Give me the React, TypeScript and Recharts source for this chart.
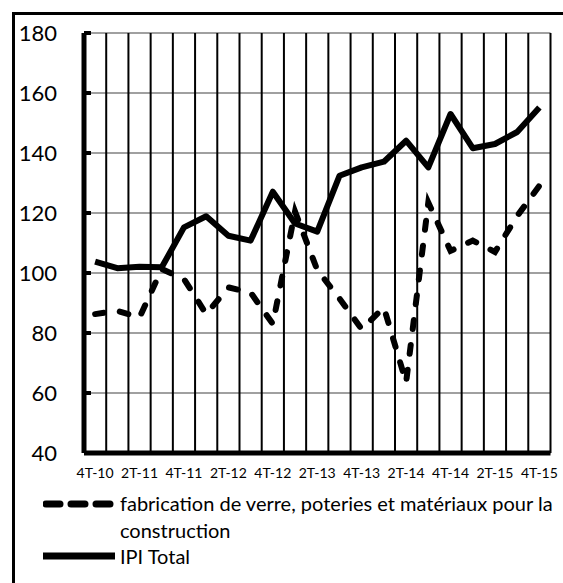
import { LineChart, Line, XAxis, YAxis, CartesianGrid } from "recharts";

// trimestres 4T-10 .. 4T-15
const quarters = [
  "4T-10", "1T-11", "2T-11", "3T-11", "4T-11", "1T-12", "2T-12", "3T-12", "4T-12",
  "1T-13", "2T-13", "3T-13", "4T-13", "1T-14", "2T-14", "3T-14", "4T-14",
  "1T-15", "2T-15", "3T-15", "4T-15",
];

const verre = [
  86.3, 87.4, 85.2, 101.3, 98, 86.3, 95.2, 93.5, 83, 120.5, 101, 91.5, 81.3,
  88.5, 63.5, 123.5, 107.4, 110.8, 107, 119, 129.1,
];

const ipiTotal = [
  103.8, 101.6, 102.1, 101.9, 115.2, 118.9, 112.4, 110.8, 127.1, 116.5, 113.8,
  132.4, 135.2, 137.1, 144.1, 135.2, 153, 141.6, 143, 147, 155.2,
];

const yTicks = [40, 60, 80, 100, 120, 140, 160, 180];

const seriesNames = {
  verre: "fabrication de verre, poteries et matériaux pour la construction",
  ipi: "IPI Total",
};

const data = quarters.map((q, i) => ({ q, verre: verre[i], ipi: ipiTotal[i] }));

const FONT = "Lato, 'Open Sans', sans-serif";

// lignes verticales aux limites des catégories
const boundaries = ({ offset }: any) =>
  quarters.map((_, k) => offset.left + ((k + 1) * offset.width) / quarters.length);

export default function App() {
  return (
    <div style={{ position: "absolute", left: 0, top: 0, width: 563, height: 583, overflow: "hidden", background: "#fff", fontFamily: FONT }}>
      {/* cadre */}
      <div style={{ position: "absolute", left: 12, top: 12, width: 700, height: 700, borderLeft: "3.5px solid #000", borderTop: "3.5px solid #000" }} />
      <div style={{ position: "absolute", left: 0, top: 0 }}>
        <LineChart width={563} height={583} data={data} margin={{ top: 33, right: 12.5, left: 0, bottom: 100 }}>
          <CartesianGrid stroke="#a0a0a0" strokeWidth={2} vertical={false} />
          <CartesianGrid stroke="#000" strokeWidth={2} horizontal={false} verticalCoordinatesGenerator={boundaries} />
          <XAxis
            dataKey="q"
            scale="band"
            interval={1}
            height={30}
            tickLine={false}
            tickSize={6}
            tickMargin={9}
            axisLine={{ stroke: "#000", strokeWidth: 5 }}
            tick={{ fill: "#000", fontSize: 14, fontFamily: FONT }}
          />
          <YAxis
            domain={[40, 180]}
            ticks={yTicks}
            width={84}
            tickSize={-7}
            tickMargin={34}
            axisLine={{ stroke: "#000", strokeWidth: 5 }}
            tickLine={{ stroke: "#000", strokeWidth: 4 }}
            tick={{ fill: "#000", fontSize: 22, fontFamily: FONT }}
          />
          <Line
            dataKey="verre"
            stroke="#000"
            strokeWidth={6}
            strokeDasharray="9 16"
            strokeLinecap="round"
            dot={false}
            isAnimationActive={false}
          />
          <Line
            dataKey="ipi"
            stroke="#000"
            strokeWidth={6}
            strokeLinejoin="round"
            dot={false}
            isAnimationActive={false}
          />
        </LineChart>
      </div>
      {/* légende */}
      <div style={{ position: "absolute", left: 43, top: 490, fontSize: 20, lineHeight: "26.5px", color: "#000" }}>
        <div style={{ display: "flex", alignItems: "flex-start" }}>
          <svg width={77} height={26} style={{ flex: "none" }}>
            <line x1={3} y1={14} x2={68} y2={14} stroke="#000" strokeWidth={7} strokeDasharray="14 11" strokeLinecap="round" />
          </svg>
          <div style={{ width: 445 }}>{seriesNames.verre}</div>
        </div>
        <div style={{ display: "flex", alignItems: "flex-start" }}>
          <svg width={77} height={26} style={{ flex: "none" }}>
            <line x1={0} y1={13} x2={72} y2={13} stroke="#000" strokeWidth={7} />
          </svg>
          <div>{seriesNames.ipi}</div>
        </div>
      </div>
    </div>
  );
}
